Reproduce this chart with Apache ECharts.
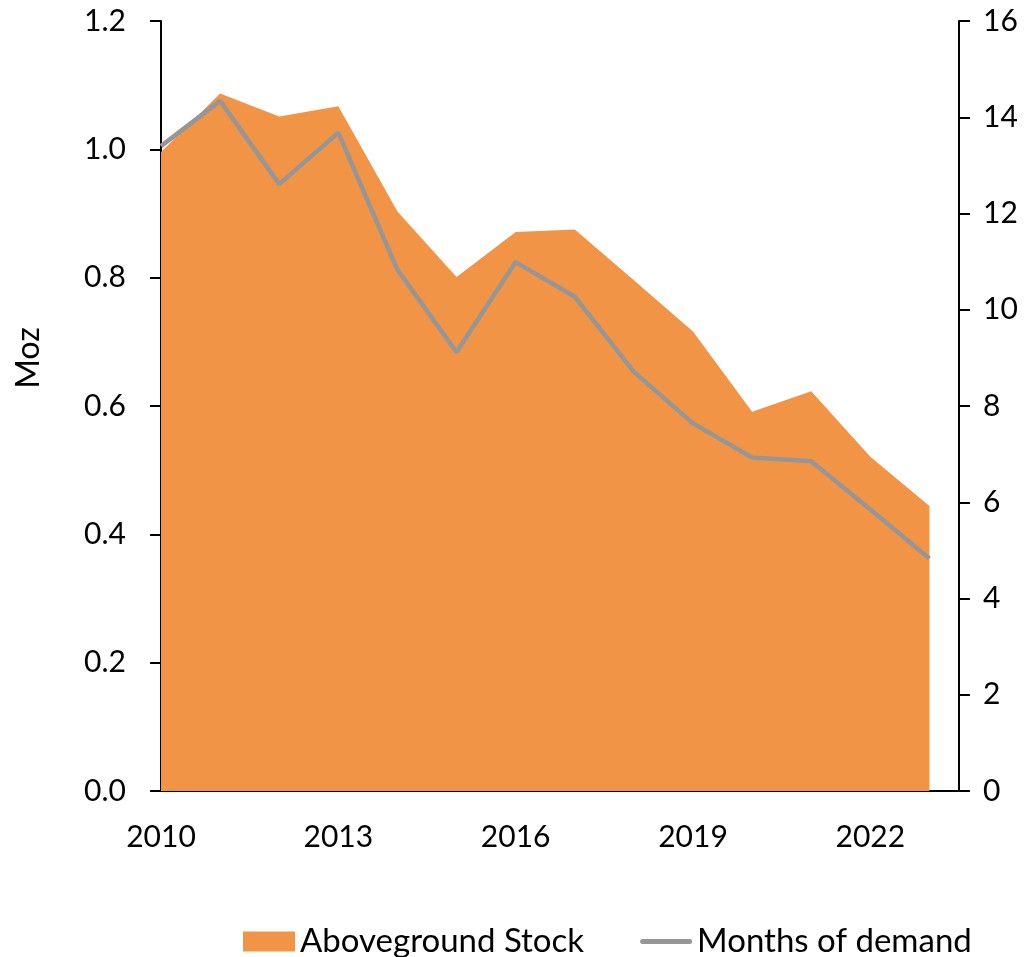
<!DOCTYPE html>
<html>
<head>
<meta charset="utf-8">
<script src="https://cdn.jsdelivr.net/npm/echarts@6/dist/echarts.min.js"></script>
<style>
  html, body { margin: 0; padding: 0; background: #fff; }
  #main { width: 1036px; height: 957px; }
</style>
</head>
<body>
<div id="main"></div>
<script>
var years = [2010, 2011, 2012, 2013, 2014, 2015, 2016, 2017, 2018, 2019, 2020, 2021, 2022, 2023];
// Moz, left axis
var stock = [0.996, 1.087, 1.051, 1.067, 0.903, 0.801, 0.871, 0.875, 0.796, 0.716, 0.591, 0.623, 0.521, 0.444];
// right axis
var months = [13.40, 14.34, 12.61, 13.68, 10.83, 9.12, 10.99, 10.27, 8.71, 7.64, 6.93, 6.85, 5.85, 4.83];

var font = 'Lato, "Open Sans", sans-serif';
// plain thick line for the legend, bbox 52x20 so it is not stretched
var lineIcon = 'path://M0,0 L0.01,0 L0.01,0.01 Z M2.5,7.5 L49.5,7.5 A2.5,2.5 0 0 1 49.5,12.5 L2.5,12.5 A2.5,2.5 0 0 1 2.5,7.5 Z M52,20 L51.99,20 L51.99,19.99 Z';

// 基于准备好的dom，初始化echarts实例
var myChart = echarts.init(document.getElementById('main'));

var option = {
    animation: false,
    textStyle: { fontFamily: font },
    grid: { left: 161, right: 77, top: 21, bottom: 166 },
    legend: {
        left: 238,
        top: 920,
        itemWidth: 52,
        itemHeight: 20,
        itemGap: 56,
        textStyle: { fontSize: 33, color: '#000', fontFamily: font },
        data: [
            { name: 'Aboveground Stock', icon: 'rect' },
            { name: 'Months of demand', icon: lineIcon, itemStyle: { color: '#969696' } }
        ]
    },
    xAxis: {
        type: 'value',
        min: 2010,
        max: 2023.5,
        interval: 3,
        splitLine: { show: false },
        axisTick: { show: false },
        axisLine: { lineStyle: { color: '#000', width: 2 } },
        axisLabel: {
            fontSize: 30,
            color: '#000',
            margin: 31,
            showMaxLabel: false,
            formatter: function (v) {
                return (v - 2010) % 3 === 0 ? String(v) : '';
            }
        }
    },
    yAxis: [{
        type: 'value',
        name: 'Moz',
        nameLocation: 'middle',
        nameGap: 116,
        nameRotate: 90,
        nameTextStyle: { fontSize: 32, color: '#000', padding: [0, 0, 0, 96] },
        min: 0,
        max: 1.2,
        interval: 0.2,
        splitLine: { show: false },
        axisLine: { show: true, lineStyle: { color: '#000', width: 2 } },
        axisTick: { show: true, length: 11, lineStyle: { color: '#000', width: 2 } },
        axisLabel: {
            fontSize: 30,
            color: '#000',
            margin: 35,
            formatter: function (v) { return v.toFixed(1); }
        }
    }, {
        type: 'value',
        position: 'right',
        min: 0,
        max: 16,
        interval: 2,
        splitLine: { show: false },
        axisLine: { show: true, lineStyle: { color: '#000', width: 2 } },
        axisTick: { show: true, length: 11, lineStyle: { color: '#000', width: 2 } },
        axisLabel: { fontSize: 30, color: '#000', margin: 24 }
    }],
    series: [{
        name: 'Aboveground Stock',
        type: 'line',
        yAxisIndex: 0,
        showSymbol: false,
        symbol: 'none',
        lineStyle: { width: 0 },
        itemStyle: { color: '#F29446' },
        areaStyle: { color: '#F29446', opacity: 1 },
        data: years.map(function (y, i) { return [y, stock[i]]; })
    }, {
        name: 'Months of demand',
        type: 'line',
        yAxisIndex: 1,
        showSymbol: false,
        symbol: 'none',
        itemStyle: { color: '#969696' },
        lineStyle: { color: '#969696', width: 4.5 },
        data: years.map(function (y, i) { return [y, months[i]]; })
    }]
};

// 使用刚指定的配置项和数据显示图表。
myChart.setOption(option);
</script>
</body>
</html>
